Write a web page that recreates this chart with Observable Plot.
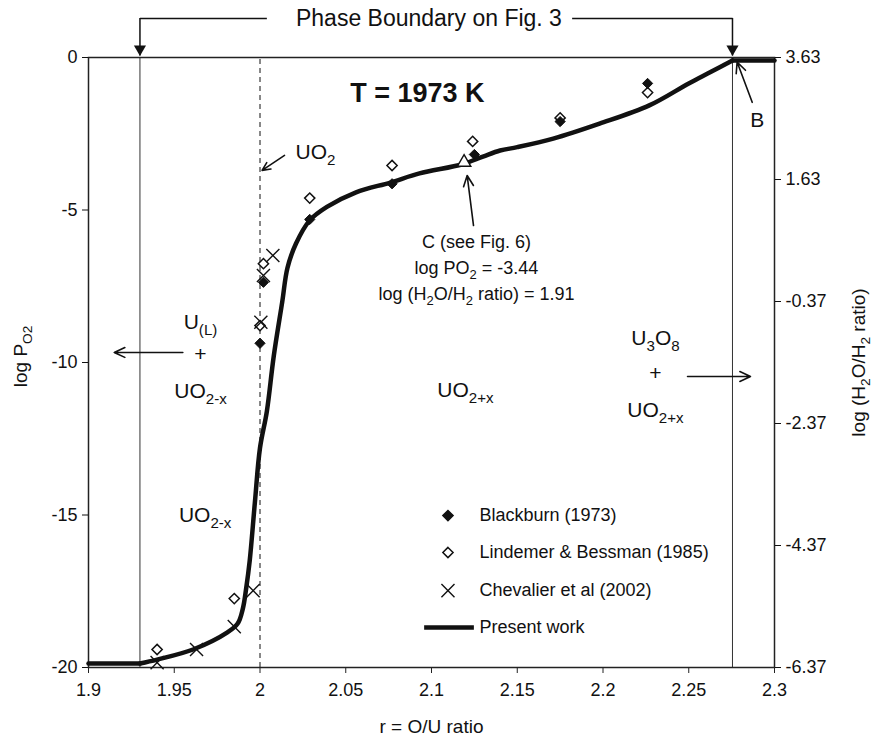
<!DOCTYPE html>
<html><head><meta charset="utf-8">
<script src="https://cdn.jsdelivr.net/npm/d3@7"></script>
<script src="https://cdn.jsdelivr.net/npm/@observablehq/plot@0.6"></script>
<style>
body{margin:0;background:#fff}
#chart svg{display:block}
</style>
</head><body><div id="chart"></div>
<script>
// ---------------- data ----------------
const xTicks = [1.9, 1.95, 2, 2.05, 2.1, 2.15, 2.2, 2.25, 2.3];
const xTickLabels = ["1.9", "1.95", "2", "2.05", "2.1", "2.15", "2.2", "2.25", "2.3"];
const yTicksLeft = [0, -5, -10, -15, -20];
const yTicksLeftLabels = ["0", "-5", "-10", "-15", "-20"];
const yTicksRight = [0, -4, -8, -12, -16, -20];
const yTicksRightLabels = ["3.63", "1.63", "-0.37", "-2.37", "-4.37", "-6.37"];

// Present work (model curve): flat left part, smooth middle part, flat right part
const curveLeftX = [1.9, 1.93];
const curveLeftY = [-19.87, -19.87];
const curveMidX = [1.93, 1.94, 1.961, 1.981, 1.987, 1.990, 1.992, 1.994, 1.997, 2.0, 2.004, 2.008, 2.013, 2.016, 2.021, 2.029, 2.039, 2.056, 2.076, 2.093, 2.118, 2.13, 2.14, 2.15, 2.171, 2.198, 2.227, 2.25, 2.263, 2.2755];
const curveMidY = [-19.87, -19.74, -19.41, -18.85, -18.56, -18.07, -17.38, -16.5, -14.6, -12.8, -11.6, -9.8, -8.0, -6.9, -6.1, -5.34, -4.9, -4.42, -4.1, -3.8, -3.5, -3.25, -3.05, -2.94, -2.66, -2.17, -1.57, -0.85, -0.47, -0.1];
const curveRightX = [2.2755, 2.3];
const curveRightY = [-0.1, -0.1];

// Blackburn (1973)
const blackburnX = [2.002, 2.0, 2.029, 2.077, 2.125, 2.175, 2.226];
const blackburnY = [-7.37, -9.37, -5.31, -4.14, -3.18, -2.1, -0.85];
// Lindemer & Bessman (1985)
const lindemerX = [1.94, 1.985, 2.002, 2.0, 2.029, 2.077, 2.124, 2.175, 2.226];
const lindemerY = [-19.41, -17.74, -6.76, -8.79, -4.61, -3.54, -2.75, -1.98, -1.15];
// Chevalier et al (2002)
const chevalierX = [1.94, 1.963, 1.985, 1.996, 2.0075, 2.002, 2.0005];
const chevalierY = [-19.84, -19.41, -18.66, -17.48, -6.49, -7.15, -8.68];
// Point C
const pointCX = [2.119];
const pointCY = [-3.44];

// phase boundaries
const boundaryX = [1.93, 2.2755];
const uo2X = [2.0];

// legend
const legendLabels = ["Blackburn (1973)", "Lindemer & Bessman (1985)", "Chevalier et al (2002)", "Present work"];

// ---------------- build tables ----------------
const zip = (xs, ys, seg) => xs.map((x, i) => ({x, y: ys[i], seg}));
const curve = [
  ...zip(curveLeftX, curveLeftY, "left"),
  ...zip(curveMidX, curveMidY, "mid"),
  ...zip(curveRightX, curveRightY, "right")
];
const blackburn = zip(blackburnX, blackburnY);
const lindemer = zip(lindemerX, lindemerY);
const chevalier = zip(chevalierX, chevalierY);
const pointC = zip(pointCX, pointCY);

const FONT = "'Liberation Sans', Arial, Helvetica, sans-serif";

// annotations (data coordinates)
const labelsStart = [
  {x: 2.0207, y: -3.11, t: "UO_{2}", s: 21}
];
const labels = [
  {x: 2.1262, y: -6.07, t: "C (see Fig. 6)", s: 18},
  {x: 2.1262, y: -6.92, t: "log PO_{2} = -3.44", s: 18},
  {x: 2.1262, y: -7.77, t: "log (H_{2}O/H_{2} ratio) = 1.91", s: 18},
  {x: 1.9653, y: -8.69, t: "U_{(L)}", s: 21},
  {x: 1.9653, y: -9.72, t: "+", s: 21},
  {x: 1.9653, y: -10.95, t: "UO_{2-x}", s: 21},
  {x: 2.1198, y: -10.92, t: "UO_{2+x}", s: 21},
  {x: 2.2306, y: -9.21, t: "U_{3}O_{8}", s: 21},
  {x: 2.2306, y: -10.36, t: "+", s: 21},
  {x: 2.2306, y: -11.57, t: "UO_{2+x}", s: 21},
  {x: 1.968, y: -15.0, t: "UO_{2-x}", s: 21},
  {x: 2.290, y: -2.07, t: "B", s: 21},
  {x: 2.0985, y: 1.28, t: "Phase Boundary on Fig. 3", s: 23},
  {x: 2.1, y: -21.95, t: "r = O/U ratio", s: 19}
];
const arrows = [
  {x1: 2.0143, y1: -3.21, x2: 2.0012, y2: -3.70},
  {x1: 2.1245, y1: -5.51, x2: 2.1208, y2: -3.87},
  {x1: 1.955, y1: -9.67, x2: 1.915, y2: -9.67},
  {x1: 2.2493, y1: -10.46, x2: 2.286, y2: -10.46},
  {x1: 2.287, y1: -1.47, x2: 2.2782, y2: -0.15}
];
const phaseLines = [
  {x1: 1.93, x2: 2.004, y: 1.28},
  {x1: 2.182, x2: 2.2755, y: 1.28}
];

const legendY = [-15.02, -16.23, -17.48, -18.69];
const legendSymX = 2.1096;
const legendTextX = 2.128;

const chart = Plot.plot({
  width: 871,
  height: 747,
  marginLeft: 88,
  marginRight: 97,
  marginTop: 57,
  marginBottom: 80,
  style: {fontFamily: FONT, fontSize: "18px", background: "#fff", color: "#111", overflow: "visible"},
  x: {domain: [1.9, 2.3]},
  y: {domain: [-20, 0]},
  marks: [
    // boundary lines
    Plot.ruleX(boundaryX, {y1: -20, y2: 0, stroke: "#333", strokeWidth: 1}),
    Plot.ruleX(uo2X, {y1: -20, y2: 0, stroke: "#111", strokeWidth: 1, strokeDasharray: "5,4"}),
    // phase boundary bracket
    Plot.link(phaseLines, {x1: "x1", x2: "x2", y1: "y", y2: "y", stroke: "#111", strokeWidth: 1.5}),
    Plot.ruleX(boundaryX, {y1: 1.28, y2: 0.05, stroke: "#111", strokeWidth: 1.5}),
    Plot.dot(boundaryX, {x: d => d, y: 0.28, symbol: "triangle", rotate: 180, r: 4.5, fill: "#111", stroke: null}),
    // frame & axes
    Plot.frame({stroke: "#222", strokeWidth: 1.5}),
    Plot.axisX({ticks: xTicks, tickFormat: d => xTickLabels[xTicks.indexOf(d)], tickSize: 6, tickPadding: 10, fontSize: 18, label: null, stroke: "#222"}),
    Plot.axisY({anchor: "left", ticks: yTicksLeft, tickFormat: d => yTicksLeftLabels[yTicksLeft.indexOf(d)], tickSize: 6, tickPadding: 5, fontSize: 18, label: null}),
    Plot.axisY({anchor: "right", ticks: yTicksRight, tickFormat: d => yTicksRightLabels[yTicksRight.indexOf(d)], tickSize: 6, tickPadding: 5, fontSize: 18, label: null}),
    // model curve
    Plot.line(curve, {x: "x", y: "y", z: "seg", stroke: "#111", strokeWidth: 4.5, curve: "catmull-rom", strokeLinejoin: "round", strokeLinecap: "round"}),
    // data
    Plot.dot(lindemer, {x: "x", y: "y", symbol: "diamond2", r: 4.6, stroke: "#111", strokeWidth: 1.5, fill: "white"}),
    Plot.dot(blackburn, {x: "x", y: "y", symbol: "diamond2", r: 4.6, fill: "#111", stroke: "#111", strokeWidth: 1}),
    Plot.dot(chevalier, {x: "x", y: "y", symbol: "times", r: 6, stroke: "#111", strokeWidth: 1.4}),
    Plot.dot(pointC, {x: "x", y: "y", symbol: "triangle", r: 5, stroke: "#111", strokeWidth: 1.4, fill: "white"}),
    // arrows
    Plot.arrow(arrows, {x1: "x1", y1: "y1", x2: "x2", y2: "y2", stroke: "#111", strokeWidth: 1.6, headLength: 11, headAngle: 50}),
    // title inside
    Plot.text(["T = 1973 K"], {x: 2.0918, y: -1.18, fontSize: 27, fontWeight: "bold", fill: "#111"}),
    // annotation labels
    Plot.text(labelsStart, {x: "x", y: "y", text: "t", textAnchor: "start", fontSize: "s", fill: "#111"}),
    Plot.text(labels, {x: "x", y: "y", text: "t", textAnchor: "middle", fontSize: "s", fill: "#111"}),
    // axis titles
    Plot.text(["log P_{O2}"], {x: 1.8604, y: -9.8, rotate: -90, fontSize: 19, fill: "#111"}),
    Plot.text(["log (H_{2}O/H_{2} ratio)"], {x: 2.349, y: -10.0, rotate: -90, fontSize: 19, fill: "#111"}),
    // legend
    Plot.dot([legendY[0]], {x: legendSymX, y: d => d, symbol: "diamond2", r: 4.6, fill: "#111", stroke: "#111"}),
    Plot.dot([legendY[1]], {x: legendSymX, y: d => d, symbol: "diamond2", r: 4.6, stroke: "#111", strokeWidth: 1.5, fill: "white"}),
    Plot.dot([legendY[2]], {x: legendSymX, y: d => d, symbol: "times", r: 6, stroke: "#111", strokeWidth: 1.4}),
    Plot.ruleY([legendY[3]], {x1: 2.096, x2: 2.125, stroke: "#111", strokeWidth: 4.5}),
    Plot.text(legendLabels, {x: legendTextX, y: (d, i) => legendY[i], textAnchor: "start", fontSize: 18, fill: "#111"})
  ]
});

// convert _{...} markup into subscript tspans
const NS = "http://www.w3.org/2000/svg";
chart.querySelectorAll("text, tspan").forEach(el => {
  if (el.childNodes.length !== 1 || el.firstChild.nodeType !== 3) return;
  const s = el.textContent;
  if (!s.includes("_{")) return;
  const fs = parseFloat(el.getAttribute("font-size")) || parseFloat(el.parentNode && el.parentNode.getAttribute && el.parentNode.getAttribute("font-size")) || 18;
  const shift = Math.round(fs * 0.28);
  el.textContent = "";
  const re = /_\{([^}]*)\}/g;
  let last = 0, m, down = false;
  const add = (txt, sub) => {
    const t = document.createElementNS(NS, "tspan");
    t.textContent = txt;
    if (sub) { t.setAttribute("font-size", (fs * 0.72).toFixed(1)); t.setAttribute("dy", shift); down = true; }
    else if (down) { t.setAttribute("dy", -shift); down = false; }
    el.appendChild(t);
  };
  while ((m = re.exec(s))) {
    if (m.index > last) add(s.slice(last, m.index), false);
    add(m[1], true);
    last = re.lastIndex;
  }
  if (last < s.length) add(s.slice(last), false);
});

document.getElementById("chart").appendChild(chart);
</script>
</body></html>
